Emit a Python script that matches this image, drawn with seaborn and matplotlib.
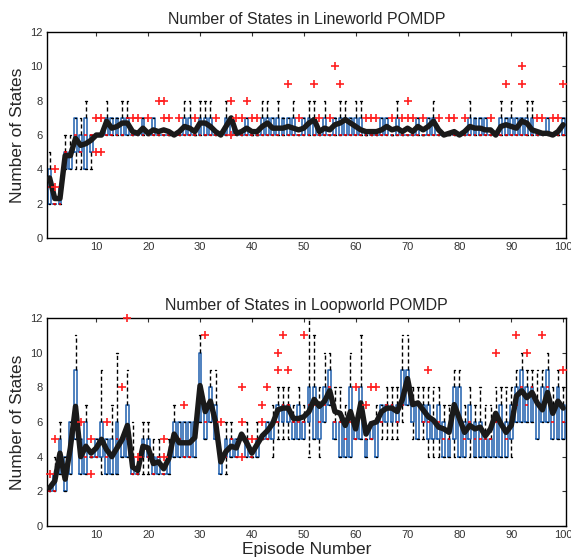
import numpy as np
import pandas as pd
import matplotlib
matplotlib.use("Agg")
import matplotlib.pyplot as plt
import seaborn as sns

episodes = np.arange(1, 101)

# Lineworld: per-episode box summary (lower whisker, q1, median, q3, upper whisker)
line_lo = [2, 2, 2, 4, 4, 4, 4, 4, 4, 6] + [6] * 90
line_q1 = [2, 2, 2, 4, 4, 5, 5, 4, 5, 6] + [6] * 25 + [6] + [6] * 64
line_med = [3, 2, 2, 5, 5, 6, 5, 6, 6, 6, 6, 6, 6, 6, 6, 7] + [6] * 19 + [7] + [6] * 64
line_q3 = [4, 2, 3, 5, 5, 7, 6, 7, 6, 6,
           6, 7, 7, 7, 7, 7, 6, 6, 7, 6,
           7, 6, 6, 6, 6, 6, 7, 7, 6, 7,
           7, 7, 6, 6, 7, 7, 6, 6, 7, 6,
           6, 7, 7, 7, 7, 7, 7, 7, 6, 7,
           7, 7, 6, 7, 6, 7, 7, 7, 7, 7,
           7, 6, 6, 6, 7, 7, 6, 7, 6, 6,
           6, 7, 6, 7, 7, 6, 6, 6, 6, 6,
           6, 7, 7, 7, 7, 6, 6, 7, 7, 7,
           7, 7, 7, 7, 6, 6, 7, 6, 6, 7]
line_hi = [5, 2, 3, 6, 6, 7, 7, 8, 6, 6,
           6, 8, 7, 7, 8, 8, 6, 6, 7, 6,
           7, 6, 6, 6, 6, 6, 8, 8, 6, 8,
           8, 8, 6, 6, 8, 7, 6, 6, 7, 6,
           6, 8, 8, 7, 8, 7, 7, 8, 6, 7,
           8, 8, 6, 8, 6, 7, 8, 8, 7, 8,
           8, 6, 6, 6, 7, 7, 6, 8, 6, 6,
           6, 7, 6, 7, 8, 6, 6, 6, 6, 6,
           6, 8, 7, 7, 7, 6, 6, 8, 7, 8,
           7, 7, 8, 8, 6, 6, 7, 6, 6, 7]
line_mean = [3.5, 2.3, 2.3, 4.8, 4.8, 5.8, 5.4, 5.5, 5.7, 6.0,
             6.0, 6.8, 6.4, 6.5, 6.7, 6.7, 6.2, 6.1, 6.4, 6.1,
             6.3, 6.2, 6.3, 6.2, 6.0, 6.2, 6.5, 6.4, 6.2, 6.7,
             6.7, 6.5, 6.2, 6.0, 6.5, 7.0, 6.1, 6.2, 6.4, 6.2,
             6.2, 6.5, 6.7, 6.4, 6.4, 6.4, 6.5, 6.4, 6.3, 6.4,
             6.7, 6.9, 6.2, 6.4, 6.3, 6.6, 6.7, 6.9, 6.7, 6.5,
             6.3, 6.2, 6.2, 6.2, 6.3, 6.5, 6.3, 6.4, 6.2, 6.4,
             6.2, 6.5, 6.3, 6.5, 6.8, 6.3, 6.0, 6.1, 6.2, 6.0,
             6.2, 6.5, 6.4, 6.4, 6.3, 6.3, 6.0, 6.5, 6.6, 6.5,
             6.4, 6.8, 6.7, 6.3, 6.2, 6.1, 6.1, 6.0, 6.2, 6.6]
line_out_ep = [2, 2, 10, 10, 11, 11, 17, 18, 20, 22, 23, 23, 24, 26, 29, 33, 36, 36,
               37, 38, 39, 40, 41, 47, 49, 52, 53, 55, 56, 57, 62, 63, 64, 67, 69,
               70, 70, 71, 73, 76, 78, 79, 81, 86, 89, 92, 92, 95, 96, 98, 99, 100]
line_out_val = [4, 3, 7, 5, 7, 5, 7, 7, 7, 8, 8, 7, 7, 7, 7, 7, 8, 6,
                7, 7, 8, 7, 7, 9, 7, 9, 7, 7, 10, 9, 7, 7, 7, 7, 7,
                8, 7, 7, 7, 7, 7, 7, 7, 7, 9, 10, 9, 7, 7, 7, 7, 9]

# Loopworld
loop_lo = [2, 2, 3, 2, 3, 5, 3, 3, 4, 4, 3, 3, 3, 3, 4, 4, 3, 3, 3, 3,
           3, 3, 3, 3, 4, 4, 4, 4, 4, 6, 5, 6, 5, 3, 3, 4, 4, 5, 4, 4,
           4, 5, 5, 4, 5, 5, 5, 5, 5, 5, 4, 5, 4, 6, 7, 5, 4, 4, 4, 5,
           5, 4, 5, 4, 5, 5, 5, 5, 6, 7, 5, 5, 5, 4, 4, 4, 4, 4, 4, 4,
           4, 4, 4, 4, 4, 4, 4, 4, 4, 4, 6, 6, 6, 6, 5, 6, 6, 5, 5, 5]
loop_q1 = [2, 2, 3, 2, 3, 5, 3, 3, 4, 4, 4, 3, 3, 3, 4, 4, 3, 3, 4, 4,
           3, 3, 3, 3, 4, 4, 4, 4, 4, 6, 5, 6, 5, 3, 4, 4, 4, 5, 4, 4,
           4, 5, 5, 5, 6, 6, 6, 5, 5, 5, 6, 5, 5, 6, 7, 5, 4, 4, 4, 5,
           5, 4, 5, 4, 6, 6, 6, 6, 7, 7, 6, 5, 6, 5, 5, 5, 4, 4, 5, 4,
           4, 5, 4, 4, 4, 4, 4, 4, 4, 5, 6, 6, 6, 6, 5, 6, 6, 5, 5, 5]
loop_med = [2, 2, 4, 3, 5, 6, 4, 4, 4, 4, 5, 4, 4, 5, 5, 5, 3, 3, 4, 4,
            3, 4, 3, 4, 5, 5, 4, 4, 5, 8, 6, 7, 6, 4, 4, 5, 4, 5, 5, 4,
            5, 5, 5, 6, 6, 7, 7, 6, 6, 6, 7, 7, 6, 7, 8, 6, 6, 5, 6, 5,
            7, 5, 5, 6, 6, 7, 7, 6, 7, 8, 7, 7, 6, 6, 6, 6, 5, 5, 7, 6,
            5, 6, 5, 5, 5, 5, 6, 6, 5, 6, 7, 8, 7, 8, 7, 7, 8, 6, 7, 6]
loop_q3 = [2, 3, 5, 4, 6, 9, 5, 6, 4, 5, 6, 5, 5, 6, 5, 7, 4, 3, 5, 5,
           4, 4, 3, 4, 6, 6, 6, 6, 6, 10, 7, 8, 7, 4, 5, 5, 5, 5, 5, 4,
           5, 5, 6, 6, 7, 7, 7, 6, 7, 6, 8, 8, 7, 8, 9, 6, 6, 6, 8, 6,
           8, 5, 6, 6, 7, 7, 7, 7, 9, 9, 7, 7, 7, 7, 6, 7, 6, 5, 8, 8,
           6, 7, 6, 6, 5, 5, 6, 7, 6, 7, 8, 9, 8, 8, 7, 8, 9, 7, 8, 7]
loop_hi = [2, 4, 6, 4, 6, 11, 5, 7, 4, 5, 9, 5, 7, 10, 5, 9, 6, 3, 6, 6,
           5, 5, 3, 5, 7, 6, 6, 6, 6, 11, 7, 9, 9, 4, 6, 6, 5, 5, 6, 4,
           6, 5, 6, 7, 8, 8, 8, 7, 8, 7, 12, 11, 8, 10, 10, 8, 8, 7, 10, 6,
           11, 5, 6, 7, 7, 8, 8, 8, 11, 11, 8, 8, 8, 8, 8, 8, 7, 7, 9, 9,
           7, 8, 7, 8, 7, 7, 8, 8, 8, 8, 9, 10, 9, 9, 9, 9, 10, 8, 9, 8]
loop_mean = [2.2, 2.6, 4.2, 2.7, 4.5, 6.9, 4.0, 4.6, 4.2, 4.5,
             5.0, 4.4, 4.0, 4.5, 5.0, 5.8, 3.4, 3.2, 4.6, 4.5,
             3.6, 3.7, 3.3, 3.9, 5.3, 4.8, 4.8, 4.8, 5.1, 8.1,
             6.6, 7.2, 6.0, 3.7, 4.3, 4.6, 4.5, 5.3, 4.8, 4.2,
             4.7, 5.2, 5.5, 5.9, 6.7, 6.8, 6.8, 6.2, 6.2, 6.3,
             6.6, 7.3, 6.9, 7.2, 7.8, 6.6, 6.5, 5.8, 6.6, 5.6,
             7.1, 5.3, 5.9, 6.0, 6.6, 6.8, 6.8, 6.6, 7.3, 8.5,
             7.0, 7.1, 6.7, 6.3, 6.1, 5.7, 5.6, 5.4, 7.0, 6.2,
             5.4, 5.8, 5.6, 5.7, 5.2, 5.6, 6.5, 5.9, 5.4, 5.8,
             7.5, 7.8, 7.4, 7.7, 7.1, 6.7, 7.7, 6.5, 7.2, 6.8]
loop_out_ep = [1, 2, 7, 9, 9, 12, 15, 16, 18, 23, 23, 27, 31, 34, 38, 38, 38, 40,
               42, 42, 43, 45, 45, 46, 47, 50, 60, 62, 63, 64, 74, 87, 91, 93, 96, 100]
loop_out_val = [3, 5, 6, 5, 3, 6, 8, 12, 4, 5, 4, 7, 11, 6, 8, 6, 4, 5,
                7, 6, 8, 10, 9, 11, 9, 11, 8, 7, 8, 8, 9, 10, 11, 10, 11, 9]

BOX_BLUE = "#1f5fae"

sns.set_style("white")
plt.rcParams["font.family"] = ["Liberation Sans", "DejaVu Sans"]

fig = plt.figure(figsize=(5.71, 5.58), dpi=100)
ax_top = fig.add_axes([0.0823, 0.5735, 0.9085, 0.369])
ax_bot = fig.add_axes([0.0823, 0.0573, 0.9085, 0.373])


def draw_panel(ax, lo, q1, med, q3, hi, mean, out_ep, out_val, title):
    vals = np.column_stack([lo, q1, med, q3, hi]).ravel()
    df = pd.DataFrame({"episode": np.repeat(episodes, 5), "states": vals})
    sns.boxplot(data=df, x="episode", y="states", native_scale=True,
                whis=(0, 100), width=0.55, fill=False, color=BOX_BLUE,
                linewidth=1.1, showfliers=False, ax=ax,
                whiskerprops=dict(color="black", linestyle=(0, (3, 2)),
                                  linewidth=1.0),
                capprops=dict(color="black", linewidth=1.0),
                medianprops=dict(color="red", linewidth=1.1))
    sns.lineplot(x=episodes, y=mean, color="#1a1a1a", linewidth=3.9, ax=ax,
                 zorder=5)
    sns.scatterplot(x=out_ep, y=out_val, marker="+", color="#ff2020", s=40,
                    linewidth=1.2, ax=ax, zorder=6, clip_on=False)
    ax.set_xlim(0.5, 100.5)
    ax.set_ylim(0, 12)
    ax.set_xticks(range(10, 101, 10))
    ax.set_yticks(range(0, 13, 2))
    ax.tick_params(direction="in", top=True, right=True, labelsize=8,
                   length=3, width=0.8, pad=3, colors="#333333")
    for s in ax.spines.values():
        s.set_color("black")
        s.set_linewidth(1.0)
    ax.set_title(title, fontsize=11.5, pad=6)
    ax.set_ylabel("Number of States", fontsize=12.5, labelpad=4)
    ax.set_xlabel("")


draw_panel(ax_top, line_lo, line_q1, line_med, line_q3, line_hi, line_mean,
           line_out_ep, line_out_val, "Number of States in Lineworld POMDP")
draw_panel(ax_bot, loop_lo, loop_q1, loop_med, loop_q3, loop_hi, loop_mean,
           loop_out_ep, loop_out_val, "Number of States in Loopworld POMDP")
ax_bot.set_xlabel("Episode Number", fontsize=12.5, labelpad=1)

fig.savefig("out.png", dpi=100)
